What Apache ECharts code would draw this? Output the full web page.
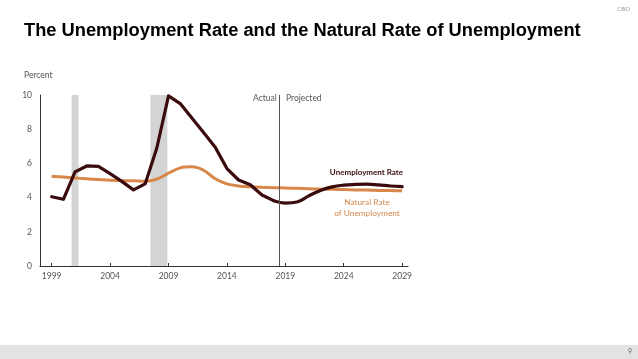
<!DOCTYPE html>
<html><head><meta charset="utf-8">
<script src="https://cdn.jsdelivr.net/npm/echarts@6/dist/echarts.min.js"></script>
<style>html,body{margin:0;padding:0;background:#fff;}#c{width:638px;height:359px;}</style>
</head><body><div id="c"></div>
<script>
const years = [1999,2000,2001,2002,2003,2004,2005,2006,2007,2008,2009,2010,2011,2012,2013,2014,2015,2016,2017,2018,2019,2020,2021,2022,2023,2024,2025,2026,2027,2028,2029];
const unempActual = [4.05,3.9,5.5,5.85,5.83,5.4,4.95,4.45,4.8,6.9,9.95,9.5,8.65,7.8,6.95,5.7,5.03,4.75,4.15,3.82];
const unempProjected = [3.82,3.68,3.74,4.1,4.42,4.63,4.73,4.77,4.79,4.74,4.68,4.64];
const naturalRate = [5.25,5.2,5.15,5.1,5.06,5.02,5.0,4.98,4.95,5.08,5.43,5.74,5.8,5.6,5.1,4.8,4.68,4.63,4.6,4.58,4.56,4.54,4.52,4.5,4.49,4.47,4.45,4.44,4.42,4.41,4.4];
const xTicks = [1999,2004,2009,2014,2019,2024,2029];
const recessions = [[2000.7,2001.3],[2007.45,2008.9]];
const splitYear = 2018.5;

const actualData = unempActual.map((v,i)=>[years[i],v]);
const projData = unempProjected.map((v,i)=>[years[19+i],v]);
const natData = naturalRate.map((v,i)=>[years[i],v]);

const font = 'Lato, "Open Sans", sans-serif';
const chart = echarts.init(document.getElementById('c'), null, {renderer:'canvas'});
chart.setOption({
  animation:false,
  grid:{left:40, right:230, top:95, bottom:93},
  xAxis:{type:'value', min:1998, max:2029.5,
    axisLine:{lineStyle:{color:'#333',width:1}},
    axisTick:{inside:true, length:3, customValues:xTicks, lineStyle:{color:'#333'}},
    axisLabel:{customValues:xTicks, color:'#555', fontSize:8.5, fontFamily:font, margin:6, formatter:v=>String(v)},
    splitLine:{show:false}},
  yAxis:{type:'value', min:0, max:10, interval:2,
    axisLine:{show:true, lineStyle:{color:'#333',width:1}},
    axisTick:{show:false},
    axisLabel:{color:'#555', fontSize:8.5, fontFamily:font, margin:8},
    splitLine:{show:false}},
  series:[
    {type:'line', data:natData, smooth:0.3, symbol:'none', z:3,
      lineStyle:{color:'#d8874a', width:3},
      markArea:{silent:true, itemStyle:{color:'#d4d4d4'},
        data:recessions.map(r=>[{xAxis:r[0]},{xAxis:r[1]}])},
      markLine:{silent:true, symbol:'none', label:{show:false},
        lineStyle:{color:'#555', width:1, type:'solid'},
        data:[{xAxis:splitYear}]}},
    {type:'line', data:actualData, smooth:false, symbol:'none', z:4,
      lineStyle:{color:'#3a0a0c', width:3.2, join:'round', cap:'round'}},
    {type:'line', data:projData, smooth:0.4, symbol:'none', z:4,
      lineStyle:{color:'#3a0a0c', width:3.2, cap:'round'}}
  ],
  graphic:[
    {type:'text', left:24, top:22, style:{text:'The Unemployment Rate and the Natural Rate of Unemployment', font:'bold 18.3px "Liberation Sans", Arial, sans-serif', fill:'#000'}},
    {type:'text', right:8, top:6, style:{text:'CBO', font:'6px '+font, fill:'#999'}},
    {type:'text', left:24, top:71, style:{text:'Percent', font:'8.5px '+font, fill:'#555'}},
    {type:'text', left:253, top:94, style:{text:'Actual', font:'8.5px '+font, fill:'#555'}},
    {type:'text', left:286, top:94, style:{text:'Projected', font:'8.5px '+font, fill:'#555'}},
    {type:'text', x:403, y:168, style:{text:'Unemployment Rate', font:'bold 8px '+font, fill:'#3a0a0c', align:'right'}},
    {type:'text', x:367, y:197, style:{text:'Natural Rate\nof Unemployment', font:'8.3px '+font, fill:'#d5884c', align:'center', lineHeight:11}},
    {type:'rect', shape:{x:0,y:345,width:638,height:14}, style:{fill:'#e3e3e3'}},
    {type:'text', right:6, top:348, style:{text:'9', font:'7px '+font, fill:'#666'}}
  ]
});
</script></body></html>
